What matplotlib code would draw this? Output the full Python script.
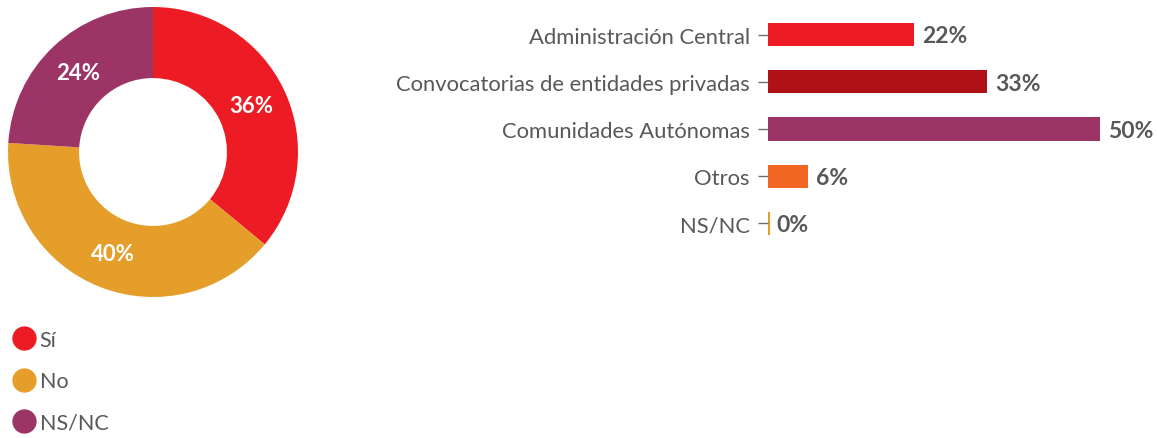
import matplotlib
matplotlib.use("Agg")
import matplotlib.pyplot as plt
from matplotlib.lines import Line2D

# Donut data
donut_labels = ["Sí", "No", "NS/NC"]
donut_values = [36, 40, 24]
donut_colors = ["#ED1C24", "#E59E2A", "#9C3566"]

# Bar data
bar_categories = ["Administración Central", "Convocatorias de entidades privadas",
                  "Comunidades Autónomas", "Otros", "NS/NC"]
bar_values = [22, 33, 50, 6, 0]
bar_colors = ["#ED1C24", "#B01117", "#9C3566", "#F26522", "#E59E2A"]

plt.rcParams["font.family"] = ["Lato", "DejaVu Sans"]
TEXT = "#58585A"

W, H = 1157, 439
fig = plt.figure(figsize=(W / 100, H / 100), dpi=100)


def px_axes(left, top, width, height):
    return fig.add_axes([left / W, 1 - (top + height) / H, width / W, height / H])


# ---- donut ----
ax_d = px_axes(8, 8, 290, 290)
wedges, _, autotexts = ax_d.pie(
    donut_values, colors=donut_colors, startangle=90, counterclock=False,
    radius=1, wedgeprops=dict(width=0.49, linewidth=0),
    autopct=lambda p: f"{p:.0f}%", pctdistance=0.75,
    textprops=dict(color="white", fontsize=16, fontweight="bold"))
ax_d.set_xlim(-1, 1)
ax_d.set_ylim(-1, 1)
ax_d.set_aspect("equal")
ax_d.axis("off")

# ---- legend ----
handles = [Line2D([0], [0], marker="o", linestyle="none", markersize=16.5,
                  markerfacecolor=c, markeredgecolor=c) for c in donut_colors]
fig.legend(handles, donut_labels, loc="upper left",
           bbox_to_anchor=(4 / W, 1 - 322 / H), frameon=False,
           fontsize=15.5, labelcolor=TEXT, handletextpad=0.15,
           labelspacing=1.0, handlelength=1.1, borderaxespad=0)

# ---- bars ----
ax_b = px_axes(768, 12, 332, 236)
ypos = list(range(len(bar_categories)))
bars = ax_b.barh(ypos, bar_values, height=0.49, color=bar_colors,
                 linewidth=0)
# keep zero-valued bars visible as a thin stroke
for b, v, c in zip(bars, bar_values, bar_colors):
    if v == 0:
        b.set_edgecolor(c)
        b.set_linewidth(3)
ax_b.set_xlim(0, 50)
ax_b.set_ylim(len(bar_categories) - 0.5, -0.5)
ax_b.set_yticks(ypos)
ax_b.set_yticklabels(bar_categories, fontsize=15.8, color=TEXT)
ax_b.tick_params(axis="y", length=7, width=1, color="#6D6E71", pad=6)
ax_b.set_xticks([])
for s in ax_b.spines.values():
    s.set_visible(False)
ax_b.patch.set_alpha(0)

for y, v in zip(ypos, bar_values):
    ax_b.annotate(f"{v}%", xy=(v, y), xytext=(6, -1), textcoords="offset points",
                  va="center", ha="left", fontsize=16.5, fontweight="bold",
                  color=TEXT, annotation_clip=False)

fig.savefig("out.png", dpi=100, facecolor="white")
